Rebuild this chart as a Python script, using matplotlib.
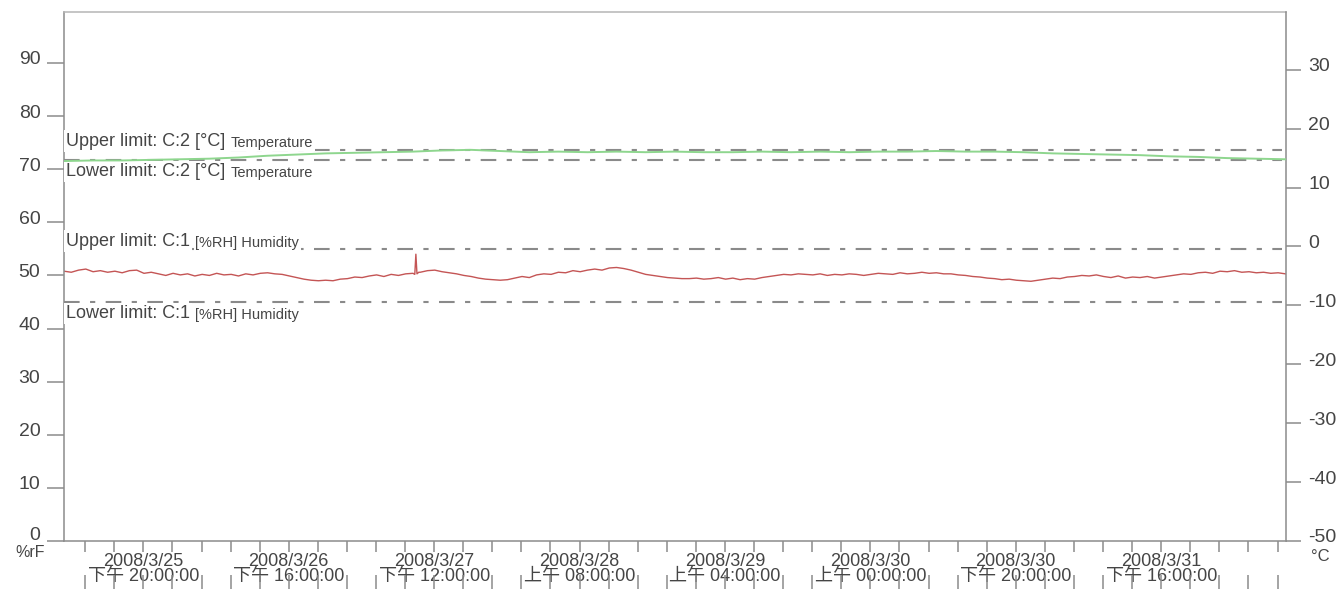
import numpy as np
import pandas as pd
import matplotlib
matplotlib.use("Agg")
import matplotlib.pyplot as plt
import matplotlib.transforms as mtransforms

plt.rcParams['font.family'] = ['Liberation Sans', 'Noto Sans CJK SC']
plt.rcParams['axes.unicode_minus'] = False

# ---------------------------------------------------------------- data
START = pd.Timestamp('2008-03-25 09:05')
X_END = pd.Timestamp('2008-04-01 09:10')

# humidity (%rF), hourly readings with a short spike on 3/27
hum_hours = list(range(0, 48)) + [48, 48.25, 48.4, 48.55, 48.8] + list(range(49, 169))
hum_vals = [
    50.8, 50.6, 51.0, 51.2, 50.7, 50.9, 50.6,
    50.8, 50.5, 50.9, 51.0, 50.4, 50.6,
    50.3, 50.0, 50.4, 50.1, 50.3, 49.9, 50.2, 50.0, 50.4, 50.1, 50.2, 49.9,
    50.3, 50.1, 50.4, 50.5, 50.3, 50.2,
    49.9, 49.6, 49.3, 49.1, 49.0, 49.1, 49.0,
    49.3, 49.4, 49.7, 49.6, 49.9, 50.1, 49.8, 50.2, 50.0, 50.3,
    50.4, 50.2, 54.0, 50.3, 50.6,
    50.6, 50.9, 51.0, 50.7,
    50.5, 50.3, 50.0, 49.8, 49.5, 49.3, 49.2, 49.1,
    49.2, 49.5, 49.8, 49.6, 50.1, 50.3, 50.2, 50.6, 50.5, 50.9, 50.7, 51.0,
    51.2, 51.0, 51.4, 51.5,
    51.3,
    51.0, 50.6, 50.2, 50.0, 49.8, 49.6, 49.5, 49.4, 49.4,
    49.5, 49.3, 49.4, 49.6, 49.3, 49.5, 49.2, 49.4, 49.3,
    49.6, 49.8, 50.0, 50.2, 50.1, 50.3,
    50.2, 50.1, 50.3, 50.0, 50.2, 50.1, 50.3, 50.2, 50.0, 50.2,
    50.4, 50.3, 50.2, 50.5, 50.3, 50.4, 50.6, 50.4, 50.5, 50.3,
    50.3, 50.1, 50.0, 49.8, 49.7, 49.5, 49.4, 49.2, 49.3, 49.1, 49.0, 48.9,
    49.1, 49.3, 49.5, 49.4, 49.7, 49.8, 50.0, 49.9, 50.1,
    49.8, 49.6, 49.9, 49.5, 49.7, 49.6, 49.8, 49.5, 49.7,
    49.9, 50.1, 50.3, 50.2, 50.5, 50.6, 50.4, 50.8, 50.7,
    50.9, 50.6, 50.7, 50.5, 50.6, 50.4, 50.5, 50.3,
]

# temperature (°C), every 4 hours
temp_hours = list(range(0, 169, 4))
temp_vals = [
    14.5, 14.6, 14.6, 14.7, 14.8, 14.9, 15.1, 15.4, 15.6, 15.8, 15.9,
    16.0, 16.1, 16.3, 16.4, 16.2, 16.0, 16.1, 16.0, 16.1, 16.0, 16.1,
    16.0, 16.0, 16.1, 16.0, 16.1, 16.0, 16.1, 16.1, 16.2, 16.1, 16.1,
    16.0, 15.8, 15.7, 15.6, 15.5, 15.3, 15.2, 15.0, 14.9, 14.8,
]

hum_upper, hum_lower = 55, 45
temp_upper, temp_lower = 16.3, 14.6

label_times = ['2008-03-25 20:00', '2008-03-26 16:00', '2008-03-27 12:00',
               '2008-03-28 08:00', '2008-03-29 04:00', '2008-03-30 00:00',
               '2008-03-30 20:00', '2008-03-31 16:00']
left_ticks = [0, 10, 20, 30, 40, 50, 60, 70, 80, 90]
right_ticks = [-50, -40, -30, -20, -10, 0, 10, 20, 30]

# ---------------------------------------------------------------- style
GRAY = '#8c8c8c'
TXT = '#454545'
LIM = dict(color='#8a8a8a', lw=1.5, ls=(0, (7.5, 5, 2.5, 5)), xmin=0, xmax=0.997)
BOX = dict(boxstyle='square,pad=0.12', fc='white', ec='none')

hum_t = START + pd.to_timedelta(hum_hours, unit='h')
temp_t = START + pd.to_timedelta(temp_hours, unit='h')
lab_t = pd.to_datetime(label_times)
minor_t = pd.date_range('2008-03-25 12:00', '2008-04-01 08:00', freq='4h')


def fmt(d):
    ampm = '上午' if d.hour < 12 else '下午'
    return f"{d.year}/{d.month}/{d.day}\n{ampm} {d:%H:%M:%S}"


fig = plt.figure(figsize=(13.44, 5.89), dpi=100)
ax = fig.add_axes([64 / 1344, 48 / 589, 1222 / 1344, 529 / 589])
ax2 = ax.twinx()

# humidity on the left axis
ax.plot(hum_t, hum_vals, color='#c45555', lw=1.0, zorder=2)
ax.axhline(hum_upper, **LIM)
ax.axhline(hum_lower, **LIM)
ax.set_ylim(0, 99.6)
ax.set_xlim(START, X_END)

# temperature on the right axis
ax2.plot(temp_t, temp_vals, color='#8ed68e', lw=1.4, zorder=5)
ax2.axhline(temp_upper, zorder=1, **LIM)
ax2.axhline(temp_lower, zorder=1, **LIM)
ax2.set_ylim(-50, 39.8)

# spines
for a in (ax, ax2):
    for s in a.spines.values():
        s.set_color(GRAY)
        s.set_linewidth(1.1)
ax.spines['right'].set_visible(False)
ax.spines['top'].set_color('#b5b5b5')
for s in ('left', 'top', 'bottom'):
    ax2.spines[s].set_visible(False)

# y ticks
ax.set_yticks(left_ticks)
ax.tick_params(axis='y', length=12, width=1.1, color=GRAY, labelsize=14,
               labelcolor=TXT, pad=5)
ax2.set_yticks(right_ticks)
ax2.tick_params(axis='y', length=11, width=1.1, color=GRAY, labelsize=14,
                labelcolor=TXT, pad=5)
up = mtransforms.ScaledTranslation(0, 5 / 100, fig.dpi_scale_trans)
for lab in ax.get_yticklabels() + ax2.get_yticklabels():
    lab.set_transform(lab.get_transform() + up)
# the lowest left label sits a little higher in the original
ax.get_yticklabels()[0].set_transform(
    ax.get_yticklabels()[0].get_transform()
    + mtransforms.ScaledTranslation(0, 3 / 100, fig.dpi_scale_trans))

# x ticks
ax.set_xticks(lab_t, [fmt(d) for d in lab_t])
ax.set_xticks(minor_t, minor=True)
ax.tick_params(axis='x', which='both', length=8, width=1.1, color=GRAY)
ax.tick_params(axis='x', which='major', labelsize=13, labelcolor=TXT, pad=0.5)
for lab in ax.get_xticklabels():
    lab.set_linespacing(0.85)
ax.vlines(minor_t, -0.064, -0.095, transform=ax.get_xaxis_transform(),
          colors=GRAY, lw=1.1, clip_on=False)

# unit labels
ax.text(-0.028, -0.022, '%rF', transform=ax.transAxes, ha='center',
        va='center', fontsize=11.5, color=TXT)
ax.text(1.028, -0.030, '°C', transform=ax.transAxes, ha='center',
        va='center', fontsize=12, color=TXT)

# limit labels (white boxes hide the limit lines and the axis behind them)
labels = [
    (0.756, 'Upper limit: C:2 [°C]', 'Temperature'),
    (0.699, 'Lower limit: C:2 [°C]', 'Temperature'),
    (0.567, 'Upper limit: C:1', '[%RH] Humidity'),
    (0.430, 'Lower limit: C:1', '[%RH] Humidity'),
]
for y, big, small in labels:
    t1 = ax2.text(0.0015, y, big, transform=ax2.transAxes, ha='left',
                  va='center', fontsize=13, color=TXT, bbox=BOX, zorder=3)
    ax2.annotate(small, xy=(1, 0), xycoords=t1, xytext=(4, 0),
                 textcoords='offset points', ha='left', va='bottom',
                 fontsize=10.5, color=TXT, bbox=BOX, zorder=3)

fig.savefig('out.png', dpi=100)
